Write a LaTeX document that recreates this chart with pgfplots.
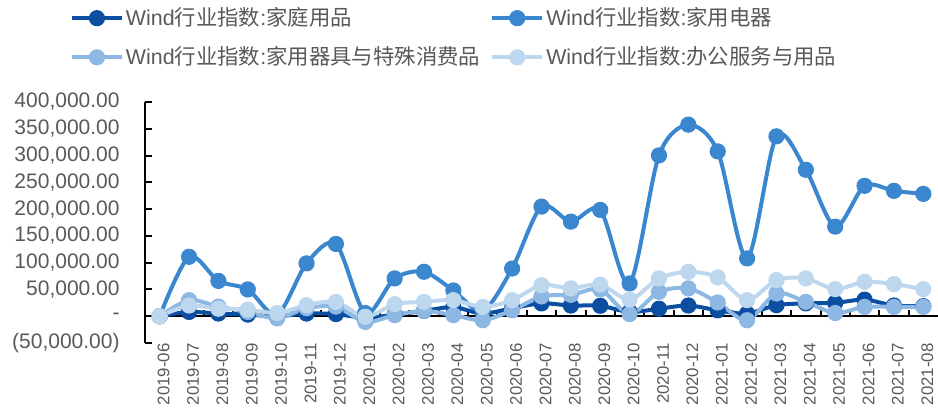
\documentclass[border=0pt]{standalone}
\usepackage{pgfplots}
\pgfplotsset{compat=1.18}
\usepackage{pgfplotstable}
\usepackage{fontspec}
\setmainfont{Liberation Sans}
\newfontfamily\cjkfont{Noto Sans CJK SC}
\newcommand\cjk[1]{{\cjkfont #1}}

\definecolor{sdark}{RGB}{11,78,162}
\definecolor{smid}{RGB}{58,135,207}
\definecolor{slight}{RGB}{141,184,227}
\definecolor{spale}{RGB}{189,215,238}
\definecolor{labelgray}{RGB}{89,89,89}

% monthly index values: s1 家庭用品, s2 家用电器, s3 家用器具与特殊消费品, s4 办公服务与用品
\pgfplotstableread{
idx s1 s2 s3 s4
0 0 0 0 0
1 8000 111000 30000 20000
2 5000 66000 18000 14000
3 3000 50000 8000 12500
4 0 3000 -4000 6000
5 5000 98700 15000 20600
6 4000 135000 18000 26800
7 -3000 6000 -10600 -1000
8 3000 70600 2000 22500
9 10000 83000 10000 26800
10 17000 48000 2000 30000
11 5000 10000 -7500 17400
12 15000 89000 11000 30000
13 24000 204700 37000 58000
14 20000 176600 40000 52000
15 19500 198500 50000 59000
16 8000 61200 4000 31000
17 14000 300300 45500 70600
18 20000 357700 52000 83000
19 11000 307800 25600 72500
20 5000 108000 -7500 30000
21 20600 335900 42500 67400
22 24000 273500 26800 70600
23 25000 167300 6000 50600
24 31000 243500 17400 64300
25 20000 234100 17400 60000
26 18700 228500 17400 50600
}\indexdata

\begin{document}
\begin{tikzpicture}
\useasboundingbox (-72.5pt,-33pt) rectangle (396.5pt,171.5pt);
\begin{axis}[
  at={(0,0)}, anchor=south west,
  scale only axis, width=396.5pt, height=120.5pt,
  xmin=-0.5, xmax=26.5, ymin=-50000, ymax=400000,
  scaled y ticks=false,
  axis y line*=left, axis x line*=bottom,
  x axis line style={draw=none},
  y axis line style={black, line width=1pt},
  tick align=inside, major tick length=3.5pt,
  ytick style={black, line width=1pt},
  xtick style={draw=none},
  tick label style={text=labelgray},
  xtick={0,...,26},
  xticklabels={2019-06,2019-07,2019-08,2019-09,2019-10,2019-11,2019-12,
    2020-01,2020-02,2020-03,2020-04,2020-05,2020-06,2020-07,2020-08,2020-09,
    2020-10,2020-11,2020-12,2021-01,2021-02,2021-03,2021-04,2021-05,2021-06,
    2021-07,2021-08},
  xticklabel style={rotate=90, anchor=east, inner sep=0pt, yshift=-2pt,
    font=\fontsize{8.4}{10}\selectfont},
  ytick={-50000,0,50000,100000,150000,200000,250000,300000,350000,400000},
  yticklabels={{(50,000.00)},{-},{50,000.00},{100,000.00},{150,000.00},
    {200,000.00},{250,000.00},{300,000.00},{350,000.00},{400,000.00}},
  yticklabel style={anchor=east, inner sep=0pt, xshift=-12.5pt,
    font=\fontsize{10.5}{12}\selectfont},
  clip=false,
  legend columns=2,
  legend cell align=left,
  legend image code/.code={\draw[mark repeat=2,mark phase=2,#1]
    plot coordinates {(0pt,0pt) (12.5pt,0pt) (25pt,0pt)};},
  legend style={at={(axis description cs:-0.0946,1.40)}, anchor=north west,
    draw=none, fill=none, inner sep=0pt, outer sep=0pt,
    font=\fontsize{10.7}{12}\selectfont, text=labelgray,
    nodes={inner sep=1pt, anchor=west}, row sep=7pt,
    /tikz/every even column/.append style={column sep=4pt}},
  every axis plot/.append style={smooth, tension=0.5, line width=2pt,
    mark=*, mark size=3.8pt},
]
% zero line with category separators
\draw[black, line width=1pt] (axis cs:-0.5,0) -- (axis cs:26.5,0);
\pgfplotsinvokeforeach{0,...,25}{
  \draw[black, line width=1pt] (axis cs:#1+0.5,0) -- ([yshift=3pt]axis cs:#1+0.5,0);
}
\addplot[color=sdark, mark options={solid, fill=sdark, draw=sdark, line width=0.5pt}]
  table[x=idx, y=s1] {\indexdata};
\addlegendentry{Wind\cjk{行业指数}:\cjk{家庭用品}}
\addplot[color=smid, mark options={solid, fill=smid, draw=smid, line width=0.5pt}]
  table[x=idx, y=s2] {\indexdata};
\addlegendentry{Wind\cjk{行业指数}:\cjk{家用电器}}
\addplot[color=slight, mark options={solid, fill=slight, draw=slight, line width=0.5pt}]
  table[x=idx, y=s3] {\indexdata};
\addlegendentry{Wind\cjk{行业指数}:\cjk{家用器具与特殊消费品}}
\addplot[color=spale, mark options={solid, fill=spale, draw=spale, line width=0.5pt}]
  table[x=idx, y=s4] {\indexdata};
\addlegendentry{Wind\cjk{行业指数}:\cjk{办公服务与用品}}
\end{axis}
\end{tikzpicture}
\end{document}
